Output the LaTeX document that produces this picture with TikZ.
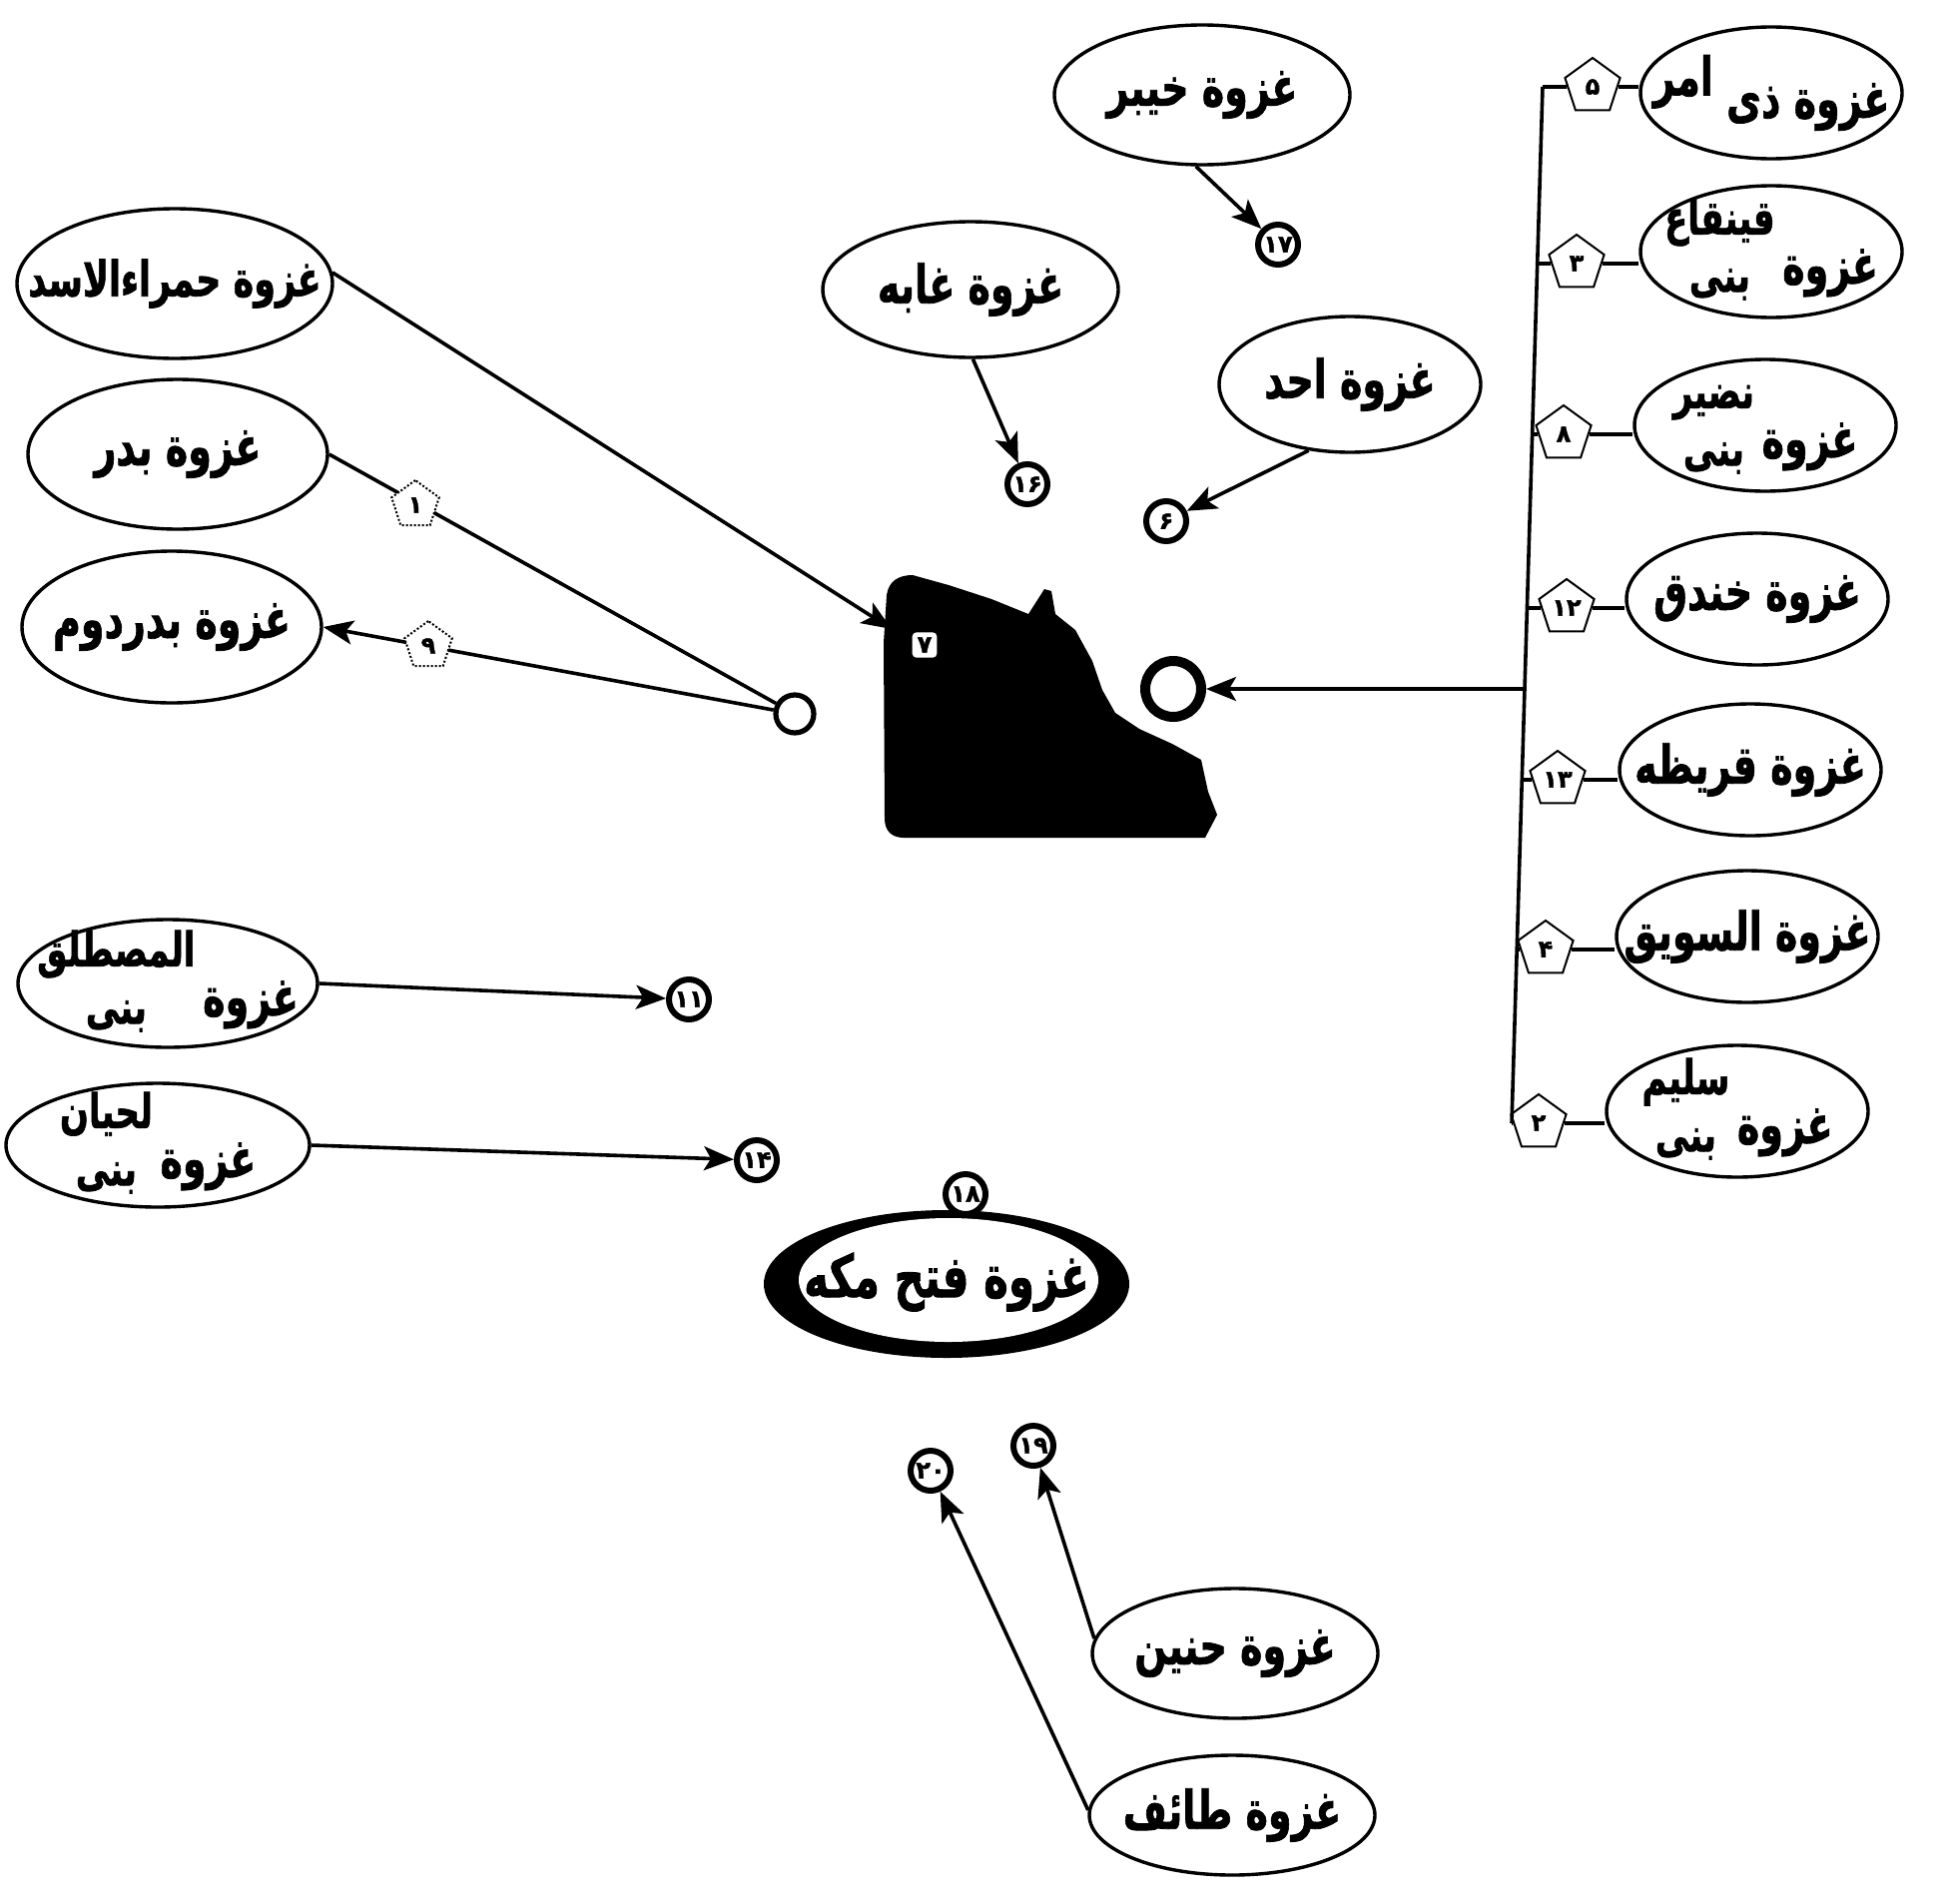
\documentclass[tikz,border=0pt]{standalone}
\usepackage{graphicx}
\usepackage{fontspec}
\TeXXeTstate=1
\newfontfamily\arabicfont[Script=Arabic,FakeBold=1.5]{DejaVu Sans}
\usetikzlibrary{shapes.geometric,arrows.meta}
\newcommand\gztxt[1]{\scalebox{1}[1.4]{\beginR#1\endR}}
\newcommand\gzfont{\arabicfont\bfseries\fontsize{19}{24}\selectfont}
\newcommand\gzsmall{\arabicfont\bfseries\fontsize{17.5}{22}\selectfont}
\newcommand\gzbig{\arabicfont\bfseries\fontsize{21}{25}\selectfont}
\newcommand\numfont{\arabicfont\bfseries\fontsize{12}{12}\selectfont}
\newcommand\upw[1]{\raisebox{0.42em}{#1}}
\newcommand\stk[2]{\hspace{0.2em}\raisebox{-0.15em}{\fontsize{17}{20.5}\selectfont\begin{tabular}[b]{@{}c@{}}#1\\#2\end{tabular}}}
\begin{document}
\begin{tikzpicture}[x=0.5pt,y=-0.5pt,
  gz/.style={ellipse, draw, line width=1.7pt, inner sep=0pt, fill=white},
  gzr/.style={gz, minimum width=131pt, minimum height=66pt},
  gzt/.style={inner sep=0pt, font=\gzfont},
  numc/.style={circle, draw, line width=3pt, minimum size=20pt, inner sep=0pt, font=\numfont, fill=white},
  pent/.style={regular polygon, regular polygon sides=5, draw, line width=1pt, minimum size=29pt, inner sep=0pt, fill=white, font=\numfont},
  faint/.style={pent, densely dotted, line width=1pt, minimum size=25pt},
  con/.style={line width=1.8pt},
  arr/.style={con, -{Stealth[length=15pt,width=12pt,inset=3.5pt]}},
]
\useasboundingbox (0,0) rectangle (1948,1906);

% ---------- right column ----------
\node[gzr] (zia) at (1774,93) {};
\node[gzr] (qayn) at (1774,252) {};
\node[gzr] (nazir) at (1768,426) {};
\node[gzr] (khandaq) at (1760,600) {};
\node[gzr] (qorayze) at (1753,771) {};
\node[gzr] (sawiq) at (1750,938) {};
\node[gzr] (solaym) at (1740,1113) {};
\node[gzt] (ziat) at (zia) {\gztxt{غزوة ذی \upw{امر}}};
\node[gzt] (qaynt) at (qayn) {\gztxt{غزوة\stk{قینقاع}{بنی}}};
\node[gzt] (nazirt) at (nazir) {\gztxt{غزوة\stk{نضیر}{بنی}}};
\node[gzt] (khandaqt) at (khandaq) {\gztxt{غزوة خندق}};
\node[gzt] (qorayzet) at (qorayze) {\gztxt{غزوة قریظه}};
\node[gzt] (sawiqt) at (sawiq) {\gztxt{غزوة السویق}};
\node[gzt] (solaymt) at (solaym) {\gztxt{غزوة\stk{سلیم}{بنی}}};

\node[pent] (p5) at (1595,87) {۵};
\node[pent] (p3) at (1579,264) {۳};
\node[pent] (p8) at (1566,435) {۸};
\node[pent] (p12) at (1569,609) {۱۲};
\node[pent] (p13) at (1560,781) {۱۳};
\node[pent] (p4) at (1548,951) {۴};
\node[pent] (p2) at (1541,1125) {۲};

\coordinate (v5) at (1545,87);
\coordinate (v3) at (1539.7,264);
\coordinate (v8) at (1534.6,435);
\coordinate (v12) at (1529.4,609);
\coordinate (vm) at (1527,690);
\coordinate (v13) at (1524.3,781);
\coordinate (v4) at (1519.2,951);
\coordinate (v2) at (1514,1125);

\draw[con] (v5) -- (v2);
\foreach \p/\v/\e in {p5/v5/zia,p3/v3/qayn,p8/v8/nazir,p12/v12/khandaq,p13/v13/qorayze,p4/v4/sawiq,p2/v2/solaym}{
  \draw[con] (\v) -- (\p.west);
  \draw[con] (\p.east) -- (\p.east -| \e.west);
}

% ---------- centre ----------
\fill (888,596) .. controls (890,582) and (900,576) .. (914,576) -- (950,586) -- (993,600) -- (1030,615) -- (1046,590) -- (1053,592) -- (1057,615)
  -- (1077,631) -- (1094,662) -- (1104,691) -- (1117,714) -- (1141,730) -- (1174,745) -- (1203,761)
  -- (1210,793) -- (1219,816) -- (1207,839) -- (905,839) .. controls (893,839) and (886,832) .. (886,820) -- (885,644) -- cycle;
\node[fill=white, inner sep=2.5pt, font=\numfont, rounded corners=2pt] (blobnum) at (926,646) {۷};
\coordinate (blobtip) at (893,630);

\node[circle, draw, line width=5pt, minimum size=28pt, inner sep=0pt] (bigc) at (1175,690) {};
\draw[arr] (vm) -- (bigc);

\node[circle, draw, line width=2.6pt, minimum size=19pt, inner sep=0pt] (sc) at (796,715) {};

% ---------- top ----------
\node[gz, minimum width=148pt, minimum height=70pt] (khaybar) at (1204,95) {};
\node[gzt] (khaybart) at (khaybar) {\gztxt{غزوة خیبر}};
\node[numc] (n17) at (1280,245) {۱۷};
\draw[arr] (khaybar.-95) -- (n17);

\node[gz, minimum width=148pt, minimum height=68pt] (ghabe) at (972,290) {};
\node[gzt] (ghabet) at (ghabe) {\gztxt{غزوة غابه}};
\node[numc] (n16) at (1029,485) {۱۶};
\draw[arr] (ghabe.-88) -- (n16);

\node[gz, minimum width=131pt, minimum height=68pt] (ohod) at (1352,385) {};
\node[gzt] (ohodt) at (ohod) {\gztxt{غزوة احد}};
\node[numc] (n6) at (1168,522) {۶};
\draw[arr] (ohod.-122) -- (n6);

% ---------- left ----------
\node[gz, minimum width=158pt, minimum height=75pt] (hamra) at (175,284) {};
\node[gzt, font=\gzsmall] (hamrat) at (hamra) {\gztxt{غزوة حمراءالاسد}};
\node[gz, minimum width=150pt, minimum height=75pt] (badr) at (178,455) {};
\node[gzt] (badrt) at (badr) {\gztxt{غزوة بدر}};
\node[gz, minimum width=150pt, minimum height=76pt] (badr2) at (172,628) {};
\node[gzt] (badr2t) at (badr2) {\gztxt{غزوة بدردوم}};

\draw[arr] (hamra.4) -- (blobtip);
\draw[con] (badr.east) -- (sc);
\draw[arr] (sc) -- (badr2.east);
\node[faint] (l1) at (416,506) {۱};
\node[faint] (l9) at (429,647) {۹};

\node[gz, minimum width=150pt, minimum height=64pt] (mostaleq) at (168,985) {};
\node[gzt] (mostaleqt) at (mostaleq) {\gztxt{غزوة\stk{المصطلق}{بنی}}};
\node[numc] (n11) at (690,1001) {۱۱};
\draw[arr] (mostaleq.east) -- (n11);

\node[gz, minimum width=152pt, minimum height=62pt] (lahyan) at (158,1147) {};
\node[gzt] (lahyant) at (lahyan) {\gztxt{غزوة\stk{لحیان}{بنی}}};
\node[numc] (n14) at (758,1162) {۱۴};
\draw[arr] (lahyan.east) -- (n14);

% ---------- bottom ----------
\node[ellipse, fill=black, minimum width=183pt, minimum height=74pt, inner sep=0pt] (fath) at (948,1286) {};
\node[ellipse, fill=white, minimum width=150pt, minimum height=62pt, inner sep=0pt] (fathin) at (950,1282) {};
\node[gzt, font=\gzbig] (fathtxt) at (948,1284) {\gztxt{غزوة فتح مکه}};
\node[numc] (n18) at (967,1196) {۱۸};

\node[numc] (n19) at (1035,1448) {۱۹};
\node[numc] (n20) at (932,1473) {۲۰};
\node[gz, minimum width=143pt, minimum height=65pt] (honein) at (1237,1656) {};
\node[gzt] (honeint) at (honein) {\gztxt{غزوة حنین}};
\node[gz, minimum width=143pt, minimum height=60pt] (taef) at (1234,1818) {};
\node[gzt] (taeft) at (taef) {\gztxt{غزوة طائف}};
\draw[arr] (honein.174) -- (n19);
\draw[arr] (taef.178) -- (n20);
\end{tikzpicture}
\end{document}
